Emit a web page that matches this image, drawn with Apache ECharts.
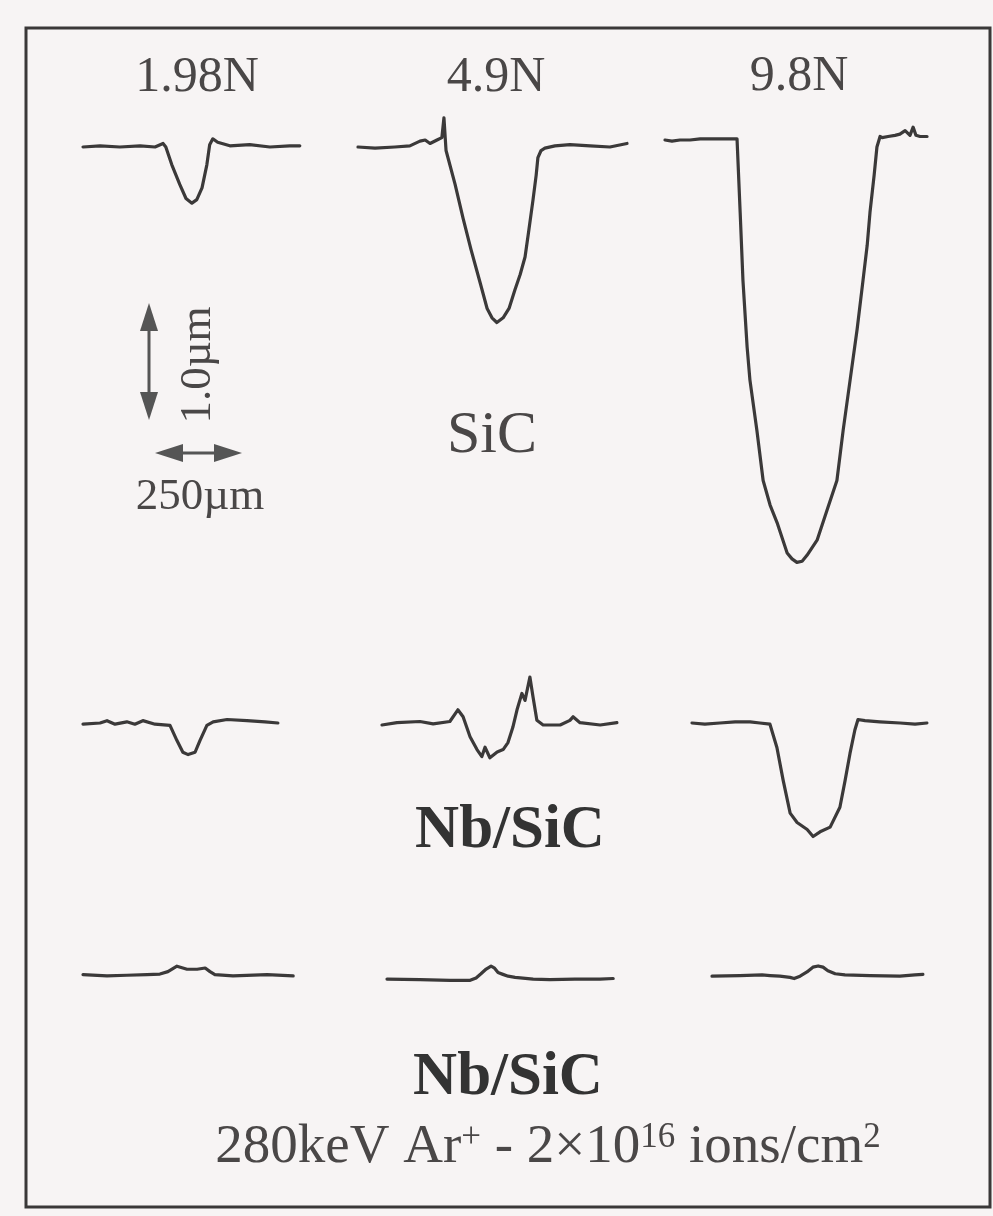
<!DOCTYPE html>
<html>
<head>
<meta charset="utf-8">
<script src="https://cdn.jsdelivr.net/npm/echarts@6/dist/echarts.min.js"></script>
<style>
html,body{margin:0;padding:0;background:#f7f4f4;}
#chart{width:993px;height:1216px;}
</style>
</head>
<body>
<div id="chart"></div>
<script>
// ---------------- DATA (lateral position in µm, height in µm) ----------------
const loads = ['1.98N', '4.9N', '9.8N'];
const rowLabels = ['SiC', 'Nb/SiC', 'Nb/SiC'];
const irradiationNote = '280keV Ar{sup|+} - 2×10{sup|16} ions/cm{sup|2}';
const scaleLateral = 250;   // µm
const scaleDepth = 1.0;     // µm

// Row 1: SiC
const sic198X = [0,49,106,164,207,230,238,255,278,296,313,327,342,356,364,373,387,422,479,537,594,623];
const sic198Z = [0,0.01,0,0.01,0,0.03,0,-0.15,-0.32,-0.44,-0.48,-0.45,-0.35,-0.15,0.02,0.07,0.04,0.01,0.02,0,0.01,0.01];

const sic49X = [0,49,106,149,178,193,207,227,241,247,253,279,302,325,351,371,385,399,417,434,451,466,480,491,503,512,517,526,537,566,609,667,724,773];
const sic49Z = [0,-0.01,0,0.01,0.05,0.06,0.03,0.06,0.08,0.25,-0.03,-0.32,-0.61,-0.88,-1.16,-1.38,-1.46,-1.50,-1.46,-1.38,-1.22,-1.09,-0.94,-0.71,-0.45,-0.24,-0.09,-0.03,-0.01,0.01,0.02,0.01,0,0.03];

const sic98X = [0,20,43,72,101,129,158,187,207,210,216,224,236,244,264,282,302,322,351,365,379,394,408,437,466,494,512,532,552,569,581,589,601,609,618,624,641,661,675,690,704,713,721,733,753];
const sic98Z = [0,-0.01,0,0,0.01,0.01,0.01,0.01,0.01,0,-0.62,-1.20,-1.77,-2.05,-2.48,-2.91,-3.12,-3.27,-3.53,-3.58,-3.61,-3.60,-3.55,-3.42,-3.16,-2.91,-2.48,-2.05,-1.62,-1.20,-0.90,-0.62,-0.30,-0.06,0.03,0.02,0.03,0.04,0.05,0.08,0.04,0.11,0.04,0.03,0.03];

// Row 2: Nb/SiC
const nb198X = [0,49,69,92,126,149,172,207,250,270,287,302,322,336,356,374,414,471,523,560];
const nb198Z = [-0.01,0,0.02,-0.01,0.01,-0.01,0.02,-0.01,-0.02,-0.15,-0.25,-0.27,-0.25,-0.15,-0.02,0.01,0.03,0.02,0.01,0];

const nb49X = [0,43,109,147,195,218,233,253,273,287,296,310,331,348,362,376,388,402,411,425,434,445,463,512,540,549,569,627,675];
const nb49Z = [0,0.02,0.03,0.01,0.03,0.13,0.07,-0.10,-0.21,-0.27,-0.19,-0.28,-0.23,-0.21,-0.15,-0.02,0.13,0.27,0.21,0.41,0.24,0.04,0,0,0.04,0.07,0.02,0,0.02];

const nb98X = [0,37,80,124,167,195,224,244,262,282,302,331,348,368,397,425,440,454,468,477,497,540,598,641,675];
const nb98Z = [0,-0.01,0,0.01,0.01,0,-0.01,-0.21,-0.49,-0.77,-0.85,-0.91,-0.97,-0.93,-0.89,-0.72,-0.49,-0.26,-0.06,0.03,0.02,0.01,0,-0.01,0];

// Row 3: Nb/SiC (Ar+ irradiated)
const nbIrr198X = [0,69,126,184,221,244,270,299,328,351,365,379,431,529,604];
const nbIrr198Z = [0,-0.02,-0.01,0,0.01,0.05,0.14,0.09,0.09,0.11,0.05,0,-0.02,0,-0.02];

const nbIrr49X = [0,95,181,239,256,270,285,299,308,319,333,348,368,420,468,540,612,650];
const nbIrr49Z = [0,-0.01,-0.02,-0.02,0.02,0.09,0.17,0.22,0.19,0.11,0.08,0.05,0.03,0,-0.01,0,0,0.01];

const nbIrr98X = [0,80,144,167,195,224,236,253,273,290,305,319,333,354,382,454,540,583,606];
const nbIrr98Z = [-0.01,0,0.01,0,-0.01,-0.03,-0.05,-0.01,0.06,0.14,0.16,0.14,0.08,0.03,0.01,0,-0.01,0.01,0.02];

const traces = [
  [sic198X, sic198Z], [sic49X, sic49Z], [sic98X, sic98Z],
  [nb198X, nb198Z], [nb49X, nb49Z], [nb98X, nb98Z],
  [nbIrr198X, nbIrr198Z], [nbIrr49X, nbIrr49Z], [nbIrr98X, nbIrr98Z]
];

// ---------------- LAYOUT ----------------
const KX = 0.348;  // px per µm (lateral)
const KY = 117;    // px per µm (depth)
const XMIN = 0, XMAX = 800, ZMIN = -4, ZMAX = 0.5;
// pixel anchor (trace start x, baseline y) for each panel
const anchors = [
  [83, 147], [358, 147], [665, 140],
  [83, 723], [382, 725], [692, 723],
  [83, 1003], [387, 1008], [712, 1004]
];
const INK = '#3b3939';
const TEXT = '#4a4747';
const SERIF = '"Liberation Serif", "Times New Roman", serif';

const grids = [], xAxes = [], yAxes = [], series = [];
traces.forEach((t, i) => {
  const [ax, ay] = anchors[i];
  grids.push({left: ax, top: ay - ZMAX * KY, width: (XMAX - XMIN) * KX, height: (ZMAX - ZMIN) * KY, containLabel: false});
  xAxes.push({type: 'value', gridIndex: i, min: XMIN, max: XMAX, show: false});
  yAxes.push({type: 'value', gridIndex: i, min: ZMIN, max: ZMAX, show: false});
  series.push({
    type: 'line', xAxisIndex: i, yAxisIndex: i,
    data: t[0].map((x, k) => [x, t[1][k]]),
    showSymbol: false, symbol: 'none', silent: true,
    lineStyle: {color: INK, width: 3.2, join: 'round', cap: 'round'}
  });
});

function txt(text, x, y, size, weight, extra) {
  return Object.assign({
    type: 'text', x: x, y: y, silent: true,
    style: {
      text: text, x: 0, y: 0,
      align: 'center', verticalAlign: 'middle',
      textAlign: 'center', textVerticalAlign: 'middle',
      fontFamily: SERIF, fontSize: size, fontWeight: weight || 'normal',
      fill: TEXT
    }
  }, extra || {});
}

// scale bar (lengths derived from the scales)
const vLen = scaleDepth * KY, hLen = scaleLateral * KX;
const AH = 28, AW = 9;
const vx = 149, vy = 303, hx = 155, hy = 453;
const scaleBar = [
  {type: 'line', shape: {x1: vx, y1: vy + AH - 2, x2: vx, y2: vy + vLen - AH + 2}, style: {stroke: '#555', lineWidth: 3}},
  {type: 'polygon', shape: {points: [[vx, vy], [vx - AW, vy + AH], [vx + AW, vy + AH]]}, style: {fill: '#555'}},
  {type: 'polygon', shape: {points: [[vx, vy + vLen], [vx - AW, vy + vLen - AH], [vx + AW, vy + vLen - AH]]}, style: {fill: '#555'}},
  {type: 'line', shape: {x1: hx + AH - 2, y1: hy, x2: hx + hLen - AH + 2, y2: hy}, style: {stroke: '#555', lineWidth: 3}},
  {type: 'polygon', shape: {points: [[hx, hy], [hx + AH, hy - AW], [hx + AH, hy + AW]]}, style: {fill: '#555'}},
  {type: 'polygon', shape: {points: [[hx + hLen, hy], [hx + hLen - AH, hy - AW], [hx + hLen - AH, hy + AW]]}, style: {fill: '#555'}}
];

const noteText = txt(irradiationNote, 548, 1148, 55);
noteText.style.rich = {sup: {fontFamily: SERIF, fontSize: 35, verticalAlign: 'top', fill: TEXT}};
const nbMid = txt(rowLabels[1], 510, 831, 61, 'bold');
const nbBot = txt(rowLabels[2], 508, 1078, 61, 'bold');
nbMid.style.fill = '#333';
nbBot.style.fill = '#333';

const graphics = [
  {type: 'rect', shape: {x: 26, y: 28, width: 964, height: 1179}, style: {fill: null, stroke: '#3a3838', lineWidth: 3}, silent: true},
  txt(loads[0], 197, 78, 50),
  txt(loads[1], 496, 78, 50),
  txt(loads[2], 799, 77, 50),
  txt(rowLabels[0], 492, 436, 60),
  nbMid, nbBot,
  txt(scaleDepth.toFixed(1) + 'µm', 198, 365, 45, 'normal', {rotation: Math.PI / 2}),
  txt(scaleLateral + 'µm', 200, 497, 45),
  noteText
].concat(scaleBar);

const chart = echarts.init(document.getElementById('chart'), null, {renderer: 'canvas'});
chart.setOption({
  backgroundColor: '#f7f4f4',
  animation: false,
  grid: grids, xAxis: xAxes, yAxis: yAxes, series: series,
  graphic: graphics
});
</script>
</body>
</html>
